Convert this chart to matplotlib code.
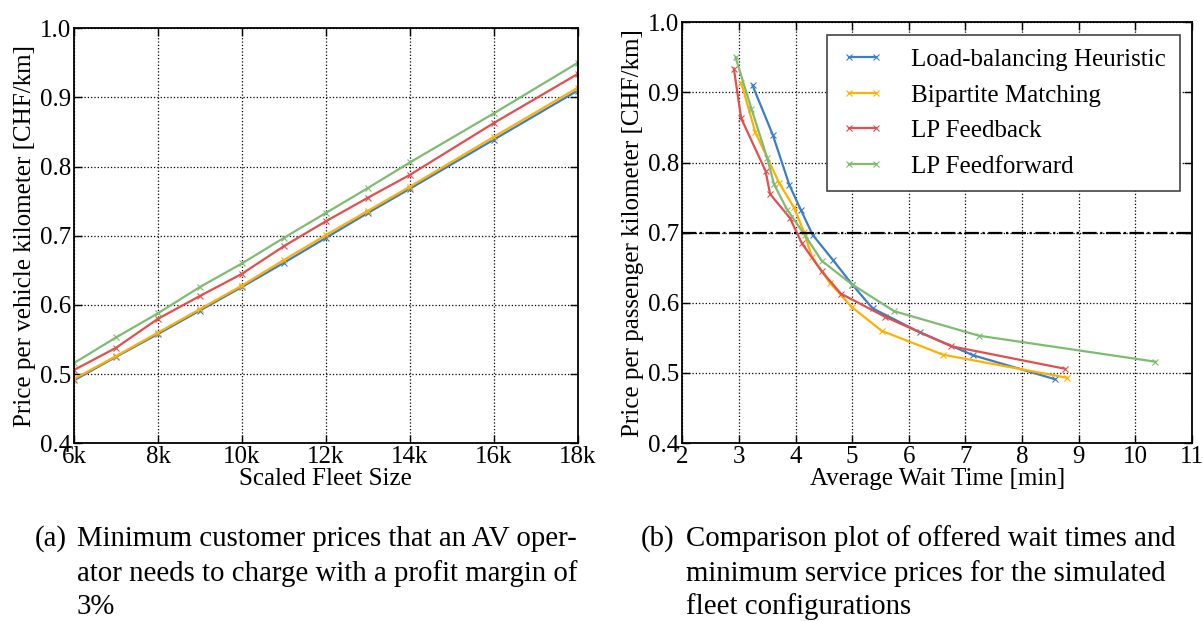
import matplotlib
matplotlib.use("Agg")
import matplotlib.pyplot as plt
import numpy as np

plt.rcParams['font.family'] = ['Liberation Serif', 'DejaVu Serif']

# fleet sizes (left plot x axis)
fleet_sizes = [6000, 7000, 8000, 9000, 10000, 11000, 12000, 13000, 14000, 16000, 18000]

# price per km for each fleet size
price_heuristic = [0.491, 0.525, 0.558, 0.592, 0.626, 0.661, 0.697, 0.733, 0.768, 0.839, 0.910]
price_bipartite = [0.493, 0.526, 0.560, 0.594, 0.628, 0.665, 0.701, 0.736, 0.771, 0.843, 0.914]
price_feedback = [0.506, 0.538, 0.580, 0.613, 0.645, 0.685, 0.721, 0.755, 0.788, 0.863, 0.934]
price_feedforward = [0.516, 0.553, 0.588, 0.626, 0.660, 0.697, 0.733, 0.769, 0.806, 0.877, 0.950]

# average wait times [min] for the same fleet sizes
wait_heuristic = [8.58, 7.14, 6.19, 5.36, 5.00, 4.66, 4.30, 4.09, 3.89, 3.60, 3.24]
wait_bipartite = [8.80, 6.60, 5.52, 4.99, 4.61, 4.29, 4.15, 3.97, 3.71, 3.29, 3.04]
wait_feedback = [8.75, 6.75, 5.58, 4.80, 4.46, 4.11, 3.90, 3.55, 3.47, 3.04, 2.91]
wait_feedforward = [10.35, 7.24, 5.74, 5.00, 4.46, 4.16, 3.85, 3.62, 3.50, 3.22, 2.94]

labels = ["Load-balancing Heuristic", "Bipartite Matching", "LP Feedback", "LP Feedforward"]
colors = ['#3b7dc8', '#ffb000', '#e0504e', '#7fbc72']
price_target = 0.7

x_ticks = [6000, 8000, 10000, 12000, 14000, 16000, 18000]
x_ticklabels = ['6k', '8k', '10k', '12k', '14k', '16k', '18k']

fs = 18
W, H = 1203, 621


def box(l, t, r, b):
    # pixel box -> figure fraction
    return [l / W, 1 - b / H, (r - l) / W, (b - t) / H]


def style_axes(ax):
    ax.grid(True, linestyle=':', color='black', linewidth=0.9)
    ax.tick_params(direction='in', top=True, right=True, length=6, width=1,
                   labelsize=fs, pad=2)
    for s in ax.spines.values():
        s.set_linewidth(1.3)


fig = plt.figure(figsize=(W / 100, H / 100), dpi=100)

# left plot
ax1 = fig.add_axes(box(74, 28.3, 577.7, 443.3))
prices = [price_heuristic, price_bipartite, price_feedback, price_feedforward]
for p, c, l in zip(prices, colors, labels):
    ax1.plot(fleet_sizes, p, color=c, linewidth=1.6, marker='x', markersize=4,
             markeredgewidth=0.8, label=l)
ax1.set_xlim(6000, 18000)
ax1.set_ylim(0.4, 1.0)
ax1.set_xticks(x_ticks)
ax1.set_xticklabels(x_ticklabels)
ax1.set_yticks(np.arange(0.4, 1.01, 0.1))
ax1.set_xlabel("Scaled Fleet Size", fontsize=fs, labelpad=0)
ax1.set_ylabel("Price per vehicle kilometer [CHF/km]", fontsize=fs, labelpad=3)
style_axes(ax1)

# right plot
ax2 = fig.add_axes(box(682.3, 22.3, 1192, 443))
waits = [wait_heuristic, wait_bipartite, wait_feedback, wait_feedforward]
for w, p, c, l in zip(waits, prices, colors, labels):
    ax2.plot(w, p, color=c, linewidth=1.6, marker='x', markersize=5,
             markeredgewidth=0.8, label=l)
ax2.axhline(price_target, color='black', linestyle='-.', linewidth=1.6)
ax2.set_xlim(2, 11)
ax2.set_ylim(0.4, 1.0)
ax2.set_xticks(range(2, 12))
ax2.set_yticks(np.arange(0.4, 1.01, 0.1))
ax2.set_xlabel("Average Wait Time [min]", fontsize=fs, labelpad=0)
ax2.set_ylabel("Price per passenger kilometer [CHF/km]", fontsize=fs, labelpad=3)
style_axes(ax2)
leg = ax2.legend(loc='upper right', fontsize=fs, numpoints=2, fancybox=False,
                 framealpha=1, edgecolor='#444444', handlelength=1.7,
                 borderpad=0.55, labelspacing=0.52, handletextpad=1.1,
                 borderaxespad=0.5)
leg.get_frame().set_linewidth(1.2)

# captions
cap = 20.8
rows = [539, 574, 607]
cap_a = ["Minimum customer prices that an AV oper-",
         "ator needs to charge with a profit margin of",
         "3%"]
cap_b = ["Comparison plot of offered wait times and",
         "minimum service prices for the simulated",
         "fleet configurations"]
fig.text(35 / W, 1 - rows[0] / H, "(a)", fontsize=cap, va='center', ha='left')
fig.text(641 / W, 1 - rows[0] / H, "(b)", fontsize=cap, va='center', ha='left')
for r, ta, tb in zip(rows, cap_a, cap_b):
    fig.text(77 / W, 1 - r / H, ta, fontsize=cap, va='center', ha='left')
    fig.text(686 / W, 1 - r / H, tb, fontsize=cap, va='center', ha='left')

fig.savefig("out.png", dpi=100)
